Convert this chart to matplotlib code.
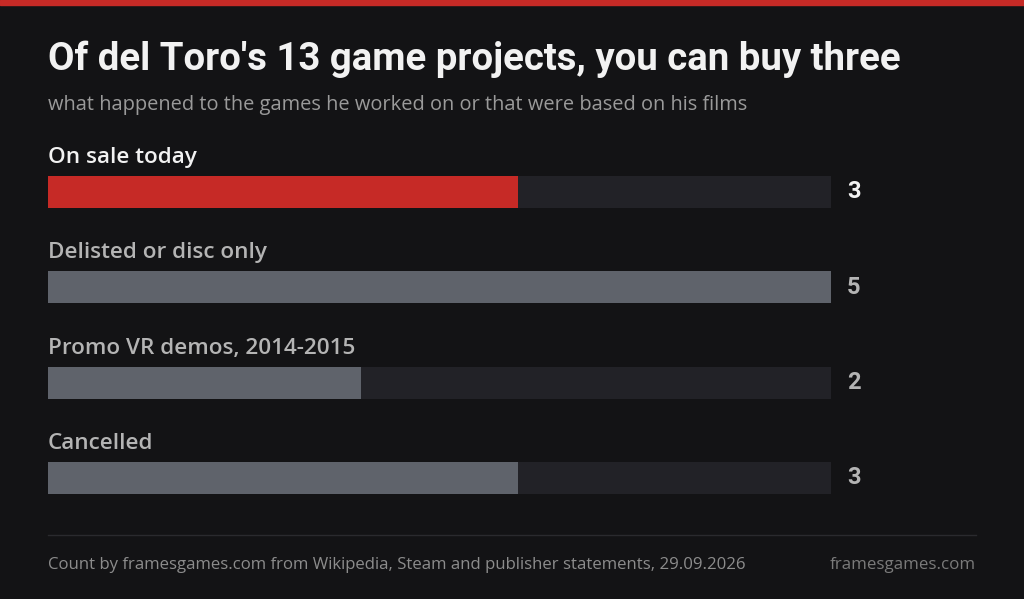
import matplotlib.pyplot as plt
import matplotlib.transforms as mtransforms

categories = ["On sale today", "Delisted or disc only", "Promo VR demos, 2014-2015", "Cancelled"]
counts = [3, 5, 2, 3]
highlight = [True, False, False, False]
total_max = 5

title = "Of del Toro's 13 game projects, you can buy three"
subtitle = "what happened to the games he worked on or that were based on his films"
source = "Count by framesgames.com from Wikipedia, Steam and publisher statements, 29.09.2026"
brand = "framesgames.com"

BG = "#131315"
RED = "#c62a26"
GREY_BAR = "#5f636b"
TRACK = "#222227"

W, H = 1024, 599
fig = plt.figure(figsize=(W / 100, H / 100), dpi=100)
fig.patch.set_facecolor(BG)

def px(x, y):
    # pixel (from top-left) -> figure fraction
    return x / W, 1 - y / H

# red strip on top
fig.patches.append(plt.Rectangle((0, 1 - 5 / H), 1, 5 / H, transform=fig.transFigure,
                                 color=RED, zorder=0))

# title + subtitle
fig.text(*px(48, 70), title, fontsize=27.6, fontweight="bold", color="#f2f2f2",
         family="Roboto", va="baseline")
fig.text(*px(48, 110), subtitle, fontsize=14.4, color="#9a9a9a", family="Open Sans",
         va="baseline")

# bar axes
top, bottom = 130, 510
l, b = px(48, bottom)
ax = fig.add_axes([l, b, 783 / W, (bottom - top) / H])
ax.set_facecolor("none")
ax.set_xlim(0, total_max)
ax.set_ylim(3.336, -0.650)
ax.axis("off")

bh = 0.336
for i, (cat, v, hl) in enumerate(zip(categories, counts, highlight)):
    ax.barh(i, total_max, height=bh, color=TRACK, left=0, zorder=1)
    ax.barh(i, v, height=bh, color=RED if hl else GREY_BAR, zorder=2)
    ax.text(0, i - 0.36, cat, fontsize=16.2, family="Open Sans", fontweight="semibold",
            color="#f2f2f2" if hl else "#b4b4b4", va="center", ha="left")
    off = mtransforms.offset_copy(ax.transData, fig=fig, x=16, y=0, units="dots")
    ax.text(total_max, i, str(v), transform=off, fontsize=17, family="Roboto",
            fontweight="bold", color="#f2f2f2" if hl else "#b4b4b4",
            va="center", ha="left")

# footer
fig.add_artist(plt.Line2D([48 / W, 976 / W], [1 - 535 / H] * 2, color="#2a2a2e",
                          lw=1, transform=fig.transFigure))
fig.text(*px(48, 569), source, fontsize=12.1, color="#8c8c8c", family="Open Sans",
         va="baseline")
fig.text(*px(976, 569), brand, fontsize=12.2, color="#7a7a7a", family="Open Sans",
         va="baseline", ha="right")

fig.savefig("out.png", dpi=100, facecolor=BG)
